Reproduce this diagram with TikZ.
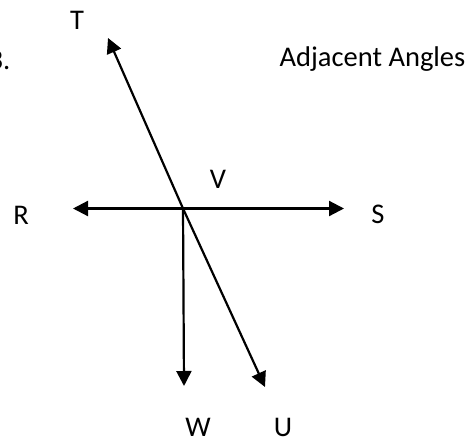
\documentclass[tikz,border=0pt]{standalone}
\usepackage{fontspec}
\setmainfont{Carlito}
\usetikzlibrary{arrows.meta}
\begin{document}
\begin{tikzpicture}[x=1pt,y=-1pt,
  ray/.style={line width=2.2pt,-{Triangle[length=15pt,width=15pt]}},
  lbl/.style={font=\fontsize{28.5}{32}\selectfont,inner sep=0pt}]
\useasboundingbox (0,0) rectangle (476,444);
\coordinate (V) at (183,208.5);
\coordinate (Tt) at (108,38);
\coordinate (Ut) at (265,387);
\coordinate (Rt) at (73,208.5);
\coordinate (St) at (344,208.5);
\coordinate (Wt) at (184,386);
\draw[ray] (V) -- (Tt);
\draw[ray] (V) -- (Ut);
\draw[ray] (V) -- (Rt);
\draw[ray] (V) -- (St);
\draw[ray] (V) -- (Wt);
\node[lbl] (T) at (77,20) {T};
\node[lbl] (Vl) at (218,179) {V};
\node[lbl] (R) at (21,215) {R};
\node[lbl] (S) at (378,214) {S};
\node[lbl] (W) at (198,427) {W};
\node[lbl] (U) at (283,427) {U};
\node[lbl,anchor=east] (num) at (10.5,60) {3.};
\node[lbl] (title) at (372.5,59) {Adjacent Angles};
\end{tikzpicture}
\end{document}
